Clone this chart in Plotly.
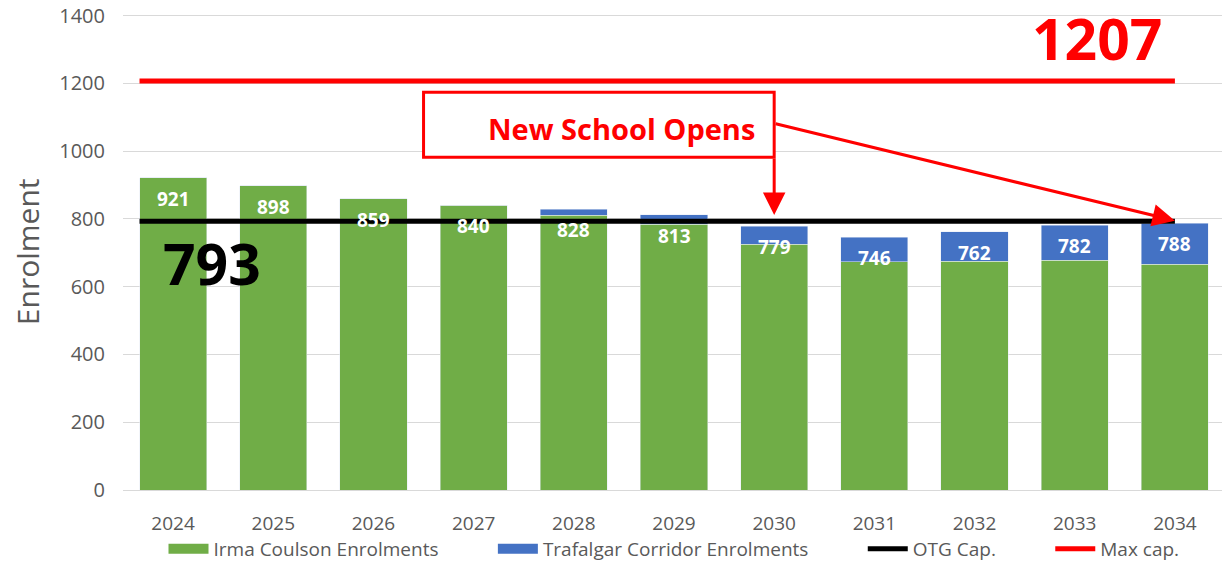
import plotly.graph_objects as go

years = [2024, 2025, 2026, 2027, 2028, 2029, 2030, 2031, 2032, 2033, 2034]
irma = [921, 898, 859, 840, 811, 785, 725, 673, 675, 678, 667]
trafalgar = [0, 0, 0, 0, 17, 28, 54, 73, 87, 104, 121]
totals = [921, 898, 859, 840, 828, 813, 779, 746, 762, 782, 788]
otg_cap = 793
max_cap = 1207

GREEN = "#70AD47"
BLUE = "#4472C4"
RED = "#FF0000"
GREY = "#595959"
bar_w = 0.67
GAP = "\u00a0" * 10  # spacing between legend entries

fig = go.Figure()
fig.add_trace(go.Bar(x=years, y=irma, name="Irma Coulson Enrolments",
                     marker_color=GREEN, width=bar_w, showlegend=False))
fig.add_trace(go.Bar(x=years, y=trafalgar, name="Trafalgar Corridor Enrolments",
                     marker_color=BLUE, width=bar_w, showlegend=False))

line_x = [years[0] - bar_w / 2, years[-1]]
fig.add_trace(go.Scatter(x=line_x, y=[otg_cap] * 2, mode="lines", showlegend=False,
                         line=dict(color="black", width=5)))
fig.add_trace(go.Scatter(x=line_x, y=[max_cap] * 2, mode="lines", showlegend=False,
                         line=dict(color=RED, width=5)))

# legend entries (wide boxes for the bar series)
for name, color, w in [("Irma Coulson Enrolments" + GAP, GREEN, 14),
                       ("Trafalgar Corridor Enrolments" + GAP, BLUE, 14),
                       ("OTG Cap." + GAP, "black", 5),
                       ("Max cap.", RED, 5)]:
    fig.add_trace(go.Scatter(x=[None], y=[None], mode="lines", name=name,
                             line=dict(color=color, width=w)))

# total labels inside the bars
for yr, t in zip(years, totals):
    fig.add_annotation(x=yr, y=t, text="<b>%d</b>" % t, showarrow=False,
                       yanchor="middle", yshift=-21,
                       font=dict(family="Open Sans", size=19, color="white"))

# big value callouts
fig.add_annotation(x=2033.22, y=1335, text="<b>%d</b>" % max_cap, showarrow=False,
                   font=dict(family="Open Sans", size=57, color=RED))
fig.add_annotation(x=2024.39, y=670, text="<b>%d</b>" % otg_cap, showarrow=False,
                   font=dict(family="Open Sans", size=57, color="black"))

# "New School Opens" box and arrows
fig.add_shape(type="rect", x0=2026.5, x1=2030.0, y0=982, y1=1174,
              line=dict(color=RED, width=3), fillcolor="white", layer="above")
fig.add_annotation(x=2028.48, y=1068, text="<b>New School Opens</b>", showarrow=False,
                   font=dict(family="Open Sans", size=29, color=RED))
fig.add_annotation(x=2030.0, y=812, ax=2030.0, ay=982, axref="x", ayref="y",
                   showarrow=True, arrowhead=2, arrowsize=1.5, arrowwidth=3,
                   arrowcolor=RED, text="")
fig.add_annotation(x=2034.0, y=795, ax=2030.0, ay=1082, axref="x", ayref="y",
                   showarrow=True, arrowhead=2, arrowsize=1.5, arrowwidth=3,
                   arrowcolor=RED, text="")

# y axis title
fig.add_annotation(xref="paper", yref="paper", x=-0.087, y=0.5, xanchor="center",
                   yanchor="middle", text="Enrolment", textangle=-90, showarrow=False,
                   font=dict(family="Open Sans", size=30, color=GREY))

# the page body adds 8px around the figure
fig.update_layout(
    barmode="stack",
    width=1222, height=555,
    margin=dict(l=115, r=5, t=6, b=73, autoexpand=False),
    plot_bgcolor="white", paper_bgcolor="white",
    font=dict(family="Open Sans", color=GREY),
    legend=dict(orientation="h", x=0.5, xanchor="center", y=-0.124, yanchor="middle",
                font=dict(family="Open Sans", size=19, color=GREY),
                itemwidth=40, traceorder="normal"),
)
fig.update_xaxes(tickmode="array", tickvals=years, ticktext=[str(y) for y in years],
                 range=[years[0] - 0.5, years[-1] + 0.5], showgrid=False,
                 showline=True, linecolor="#d9d9d9", linewidth=1, automargin=False,
                 tickfont=dict(size=19, color=GREY), ticks="", ticklabelstandoff=16)
fig.update_yaxes(range=[0, 1405], tickvals=[0, 200, 400, 600, 800, 1000, 1200, 1400],
                 gridcolor="#d9d9d9", gridwidth=1, ticklabeloverflow="allow",
                 zeroline=False, automargin=False, ticklabelstandoff=17,
                 tickfont=dict(size=20, color=GREY))

fig.write_html("out.html")
